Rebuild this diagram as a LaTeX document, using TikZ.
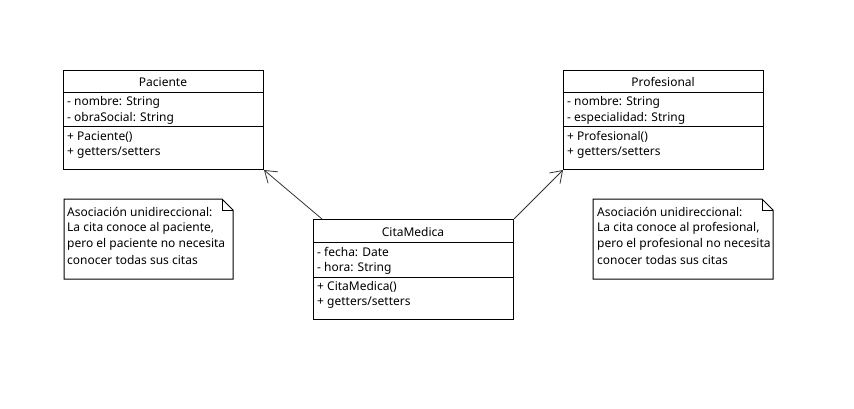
\documentclass[tikz,border=0pt]{standalone}
\usepackage{fontspec}
\setmainfont{Noto Sans}
\usetikzlibrary{arrows.meta,calc}
\tikzset{
  classbox/.style={draw=black,line width=1bp,minimum width=200bp,minimum height=99bp,anchor=north west,inner sep=0pt},
  sep/.style={draw=black,line width=1bp},
  ttl/.style={anchor=center,inner sep=0pt,yshift=-1bp,font=\fontsize{12bp}{14bp}\selectfont},
  txt/.style={anchor=west,inner sep=0pt,yshift=-1bp,font=\fontsize{12bp}{14bp}\selectfont},
  notebox/.style={draw=black,line width=1bp},
  assoc/.style={draw=black!80,line width=0.8bp,-{Straight Barb[length=11bp,width=15bp,line width=0.8bp]}}
}
\begin{document}
\begin{tikzpicture}[x=1bp,y=-1bp]
\useasboundingbox (0,0) rectangle (854,408);
\fill[white] (0,0) rectangle (854,408);

% Paciente
\node[classbox] (pac) at (63,70) {};
\draw[sep] (63,92) -- (263,92);
\draw[sep] (63,126) -- (263,126);
\node[ttl] (pact) at (163,81) {Paciente};
\node[txt] (pa1) at (67,101) {- nombre: String};
\node[txt] (pa2) at (67,117) {- obraSocial: String};
\node[txt] (pm1) at (67,136) {+ Paciente()};
\node[txt] (pm2) at (67,152) {+ getters/setters};

% Profesional
\node[classbox] (pro) at (563,70) {};
\draw[sep] (563,92) -- (763,92);
\draw[sep] (563,126) -- (763,126);
\node[ttl] (prot) at (663,81) {Profesional};
\node[txt] (pra1) at (567,101) {- nombre: String};
\node[txt] (pra2) at (567,117) {- especialidad: String};
\node[txt] (prm1) at (567,136) {+ Profesional()};
\node[txt] (prm2) at (567,152) {+ getters/setters};

% CitaMedica
\node[classbox,minimum height=100bp] (cita) at (313,219) {};
\draw[sep] (313,242) -- (513,242);
\draw[sep] (313,277) -- (513,277);
\node[ttl] (citat) at (413,231) {CitaMedica};
\node[txt] (ca1) at (317,251) {- fecha: Date};
\node[txt] (ca2) at (317,267) {- hora: String};
\node[txt] (cm1) at (317,286) {+ CitaMedica()};
\node[txt] (cm2) at (317,302) {+ getters/setters};

% Notes
\draw[notebox] (64,199) -- (222,199) -- (233,210) -- (233,279) -- (64,279) -- cycle;
\draw[notebox] (222,199) -- (222,210) -- (233,210);
\node[txt] (n1a) at (67,211) {Asociación unidireccional:};
\node[txt] (n1b) at (67,227) {La cita conoce al paciente,};
\node[txt] (n1c) at (67,243) {pero el paciente no necesita};
\node[txt] (n1d) at (67,259) {conocer todas sus citas};

\draw[notebox] (593,199) -- (762,199) -- (773,210) -- (773,279) -- (593,279) -- cycle;
\draw[notebox] (762,199) -- (762,210) -- (773,210);
\node[txt] (n2a) at (597,211) {Asociación unidireccional:};
\node[txt] (n2b) at (597,227) {La cita conoce al profesional,};
\node[txt] (n2c) at (597,243) {pero el profesional no necesita};
\node[txt] (n2d) at (597,259) {conocer todas sus citas};

% Associations
\coordinate (s1) at (322,219);
\draw[assoc] (s1) -- (pac.south east);
\draw[assoc] (cita.north east) -- (pro.south west);
\end{tikzpicture}
\end{document}
